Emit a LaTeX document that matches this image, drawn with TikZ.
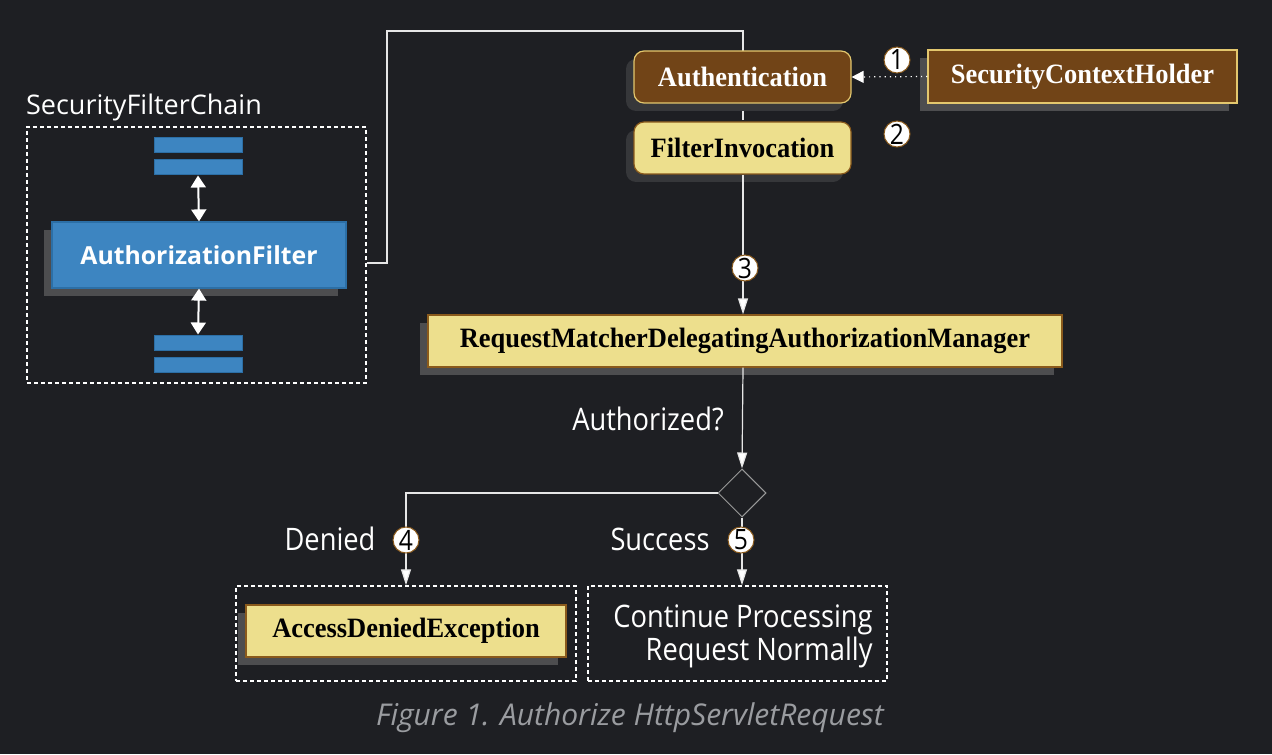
\documentclass[tikz,border=0pt]{standalone}
\usepackage{fontspec}
\setmainfont{Liberation Serif}
\newfontfamily\boxfont[FakeStretch=0.945]{Liberation Serif}
\newfontfamily\sansf{Open Sans}
\newfontfamily\condf[FakeStretch=0.88]{Open Sans}
\usetikzlibrary{shapes.geometric,arrows.meta,shadows,calc}
\definecolor{bgc}{HTML}{1E1F23}
\definecolor{brownc}{HTML}{714417}
\definecolor{brownbd}{HTML}{E3C76E}
\definecolor{yellowc}{HTML}{EDDF8D}
\definecolor{yellowbd}{HTML}{8A5A1C}
\definecolor{bluec}{HTML}{3D85C1}
\definecolor{bluebd}{HTML}{2C6FA6}
\definecolor{shadowc}{HTML}{4D4D4F}
\definecolor{shadowd}{HTML}{36373A}
\definecolor{linec}{HTML}{E6E6E6}
\definecolor{capc}{HTML}{9A9CA0}
\tikzset{
  sh/.style={drop shadow={shadow xshift=-4pt,shadow yshift=-4pt,fill=shadowc,opacity=1}},
  shd/.style={drop shadow={shadow xshift=-4pt,shadow yshift=-4pt,fill=shadowd,opacity=1}},
  brownbox/.style={draw=brownbd,fill=brownc,text=white,line width=0.6pt,inner sep=0pt,
     font=\boxfont\bfseries\fontsize{14}{16}\selectfont},
  yellowbox/.style={draw=yellowbd,fill=yellowc,text=black,line width=0.6pt,inner sep=0pt,
     font=\boxfont\bfseries\fontsize{14}{16}\selectfont},
  bluebar/.style={draw=bluebd,fill=bluec,line width=0.5pt,minimum width=44pt,minimum height=7.5pt,inner sep=0pt},
  bluebox/.style={draw=bluebd,fill=bluec,text=white,line width=0.6pt,inner sep=0pt,
     minimum width=147pt,minimum height=33pt,font=\sansf\bfseries\fontsize{12.4}{15}\selectfont},
  dbox/.style={draw=white,dash pattern=on 2pt off 1.5pt,line width=0.7pt,inner sep=0pt},
  lbl/.style={text=white,font=\sansf\fontsize{13.5}{16}\selectfont,inner sep=0pt},
  clbl/.style={text=white,font=\condf\fontsize{15.5}{17}\selectfont,inner sep=0pt},
  num/.style={circle,fill=white,draw=yellowbd,line width=0.5pt,text=black,inner sep=0pt,minimum size=13pt,
     font=\condf\fontsize{14}{14}\selectfont},
  conn/.style={draw=linec,line width=0.6pt},
  arr/.style={conn,-{Triangle[length=8pt,width=5pt,fill=white]}},
  darr/.style={draw=white,line width=1pt,{Triangle[length=6pt,width=7.5pt]}-{Triangle[length=6pt,width=7.5pt]}},
}
\begin{document}
\begin{tikzpicture}[x=0.5pt,y=-0.5pt]
\fill[bgc] (0,0) rectangle (1272,754);
\useasboundingbox (0,0) rectangle (1272,754);

% security filter chain
\node[lbl] (sfclbl) at (144,107) {SecurityFilterChain};
\node[dbox,minimum width=169.5pt,minimum height=128pt] (chain) at (196.5,255) {};
\node[bluebar] (b1) at (198,145.5) {};
\node[bluebar] (b2) at (198,167.5) {};
\node[bluebar] (b3) at (198,342.5) {};
\node[bluebar] (b4) at (198,365) {};
\node[bluebox,sh] (af) at (199,255) {AuthorizationFilter};
\draw[darr] (b2.south) -- (af.north);
\draw[darr] (af.south) -- (b3.north);

% connector from chain to top
\coordinate (t1) at (387,263);
\coordinate (t2) at (387,31);
\coordinate (t3) at (743,31);
\draw[conn] (chain.east |- t1) -- (t1) -- (t2) -- (t3) -- (743,120);
\draw[conn] (743,170) -- (743,300);

% top boxes
\node[brownbox,shd,rounded corners=5pt,minimum width=108.5pt,minimum height=26pt] (auth) at (742.5,77) {Authentication};
\node[yellowbox,shd,rounded corners=5pt,minimum width=108.5pt,minimum height=26pt] (fi) at (742.5,148) {FilterInvocation};
\node[brownbox,sh,minimum width=154.5pt,minimum height=26.5pt] (sch) at (1082.5,76.5) {SecurityContextHolder};
\draw[draw=white,line width=0.6pt,dotted,-{Triangle[length=6pt,width=6pt,fill=white]}] (sch.west) -- (auth.east);
\node[num] (n1) at (897,60) {1};
\node[num] (n2) at (897,134) {2};

% RMDAM
\node[yellowbox,sh,minimum width=317pt,minimum height=26pt] (rm) at (745,341) {RequestMatcherDelegatingAuthorizationManager};
\draw[arr] (fi.south -| t3) -- (rm.north -| t3);
\node[num] (n3) at (745,268) {3};

% decision
\node[diamond,aspect=1,draw=gray!80,line width=0.5pt,minimum size=24pt,inner sep=0pt] (dia) at (742,493) {};
\draw[arr] (rm.south -| t3) -- (dia.north);
\node[clbl] (authq) at (648,419) {Authorized?};

% outcome boxes
\node[dbox,minimum width=170pt,minimum height=47.5pt] (leftbox) at (406,633.5) {};
\node[dbox,minimum width=149.5pt,minimum height=47.5pt] (rightbox) at (737.5,633.5) {};
\node[yellowbox,sh,minimum width=160pt,minimum height=26pt] (ade) at (406,631) {AccessDeniedException};
\node[clbl,align=right,anchor=east,font=\condf\fontsize{15.5}{15}\selectfont] (cont) at (873,636) {Continue Processing\\Request Normally};

\draw[arr] (dia.west) -| (leftbox.north);
\draw[arr] (dia.south) -- (dia.south |- rightbox.north);
\node[num] (n4) at (406,540) {4};
\node[num] (n5) at (741,540) {5};
\node[clbl] (denied) at (330,539) {Denied};
\node[clbl] (succ) at (660,539) {Success};

% caption
\node[text=capc,font=\sansf\itshape\fontsize{15}{17}\selectfont,inner sep=0pt] (cap) at (630,718) {Figure 1. Authorize HttpServletRequest};
\end{tikzpicture}
\end{document}
